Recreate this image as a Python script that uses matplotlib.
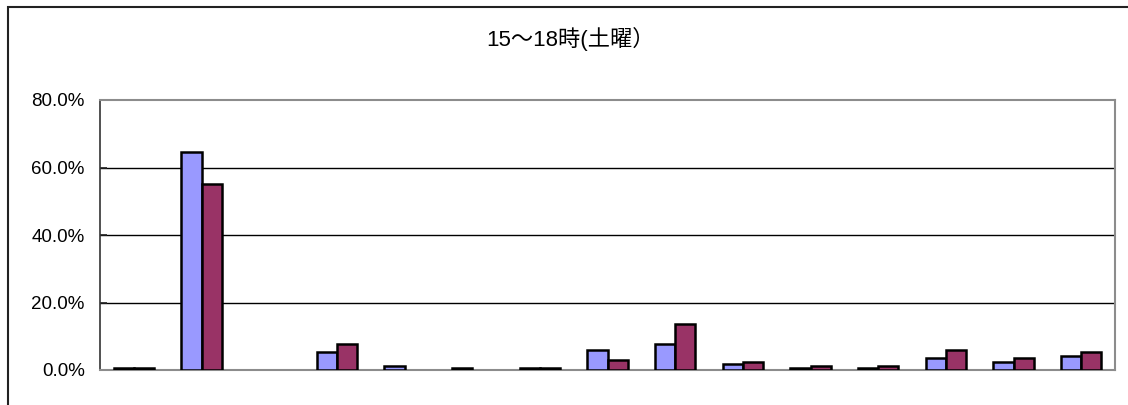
import matplotlib.pyplot as plt
import numpy as np
from matplotlib.patches import Rectangle

# data (percent)
categories = list(range(1, 16))
series_a = [0.6, 64.6, 0.0, 5.3, 1.2, 0.6, 0.6, 5.9, 7.7, 1.8, 0.6, 0.6, 3.5, 2.5, 4.1]
series_b = [0.6, 55.1, 0.0, 7.7, 0.0, 0.0, 0.6, 3.0, 13.7, 2.5, 1.2, 1.2, 5.9, 3.5, 5.4]
yticks = [0, 20, 40, 60, 80]
title = '15～18時(土曜）'

plt.rcParams['font.family'] = ['Liberation Sans', 'Noto Sans CJK JP', 'DejaVu Sans']

fig = plt.figure(figsize=(11.28, 4.05), dpi=100)
ax = fig.add_axes([100 / 1128, 35 / 405, 1015 / 1128, 270 / 405])

# outer chart frame (only left/top visible in the crop)
fig.patches.append(Rectangle((8 / 1128, -0.1), 1.2, (398 / 405) + 0.1,
                             transform=fig.transFigure, fill=False,
                             edgecolor='#222222', linewidth=1.5))

x = np.arange(len(categories))
w = 0.3
for off, vals, col in [(-w / 2, series_a, '#9999FF'), (w / 2, series_b, '#993366')]:
    vals = np.array(vals)
    # zero bars are not drawn at all in the original
    lw = np.where(vals > 0, 1.8, 0)
    ax.bar(x + off, vals, w, color=col, edgecolor='black', linewidth=lw, zorder=3)

ax.set_xlim(-0.5, len(categories) - 0.5)
ax.set_ylim(0, 80)
ax.set_yticks(yticks)
ax.set_yticklabels([f'{v:.1f}%' for v in yticks], fontsize=13.5)
ax.set_xticks([])
ax.tick_params(axis='y', direction='in', length=5, width=1.2, pad=11, colors='#222222',
               labelcolor='black')

for v in yticks[1:-1]:
    ax.axhline(v, color='black', linewidth=1, zorder=1)

ax.spines['left'].set_color('#333333')
ax.spines['left'].set_linewidth(1.2)
for s in ['top', 'right', 'bottom']:
    ax.spines[s].set_color('#8c8c8c')
    ax.spines[s].set_linewidth(1.5)

fig.text(570 / 1128, 1 - 39 / 405, title, ha='center', va='center', fontsize=16)

fig.savefig('out.png', dpi=100)
